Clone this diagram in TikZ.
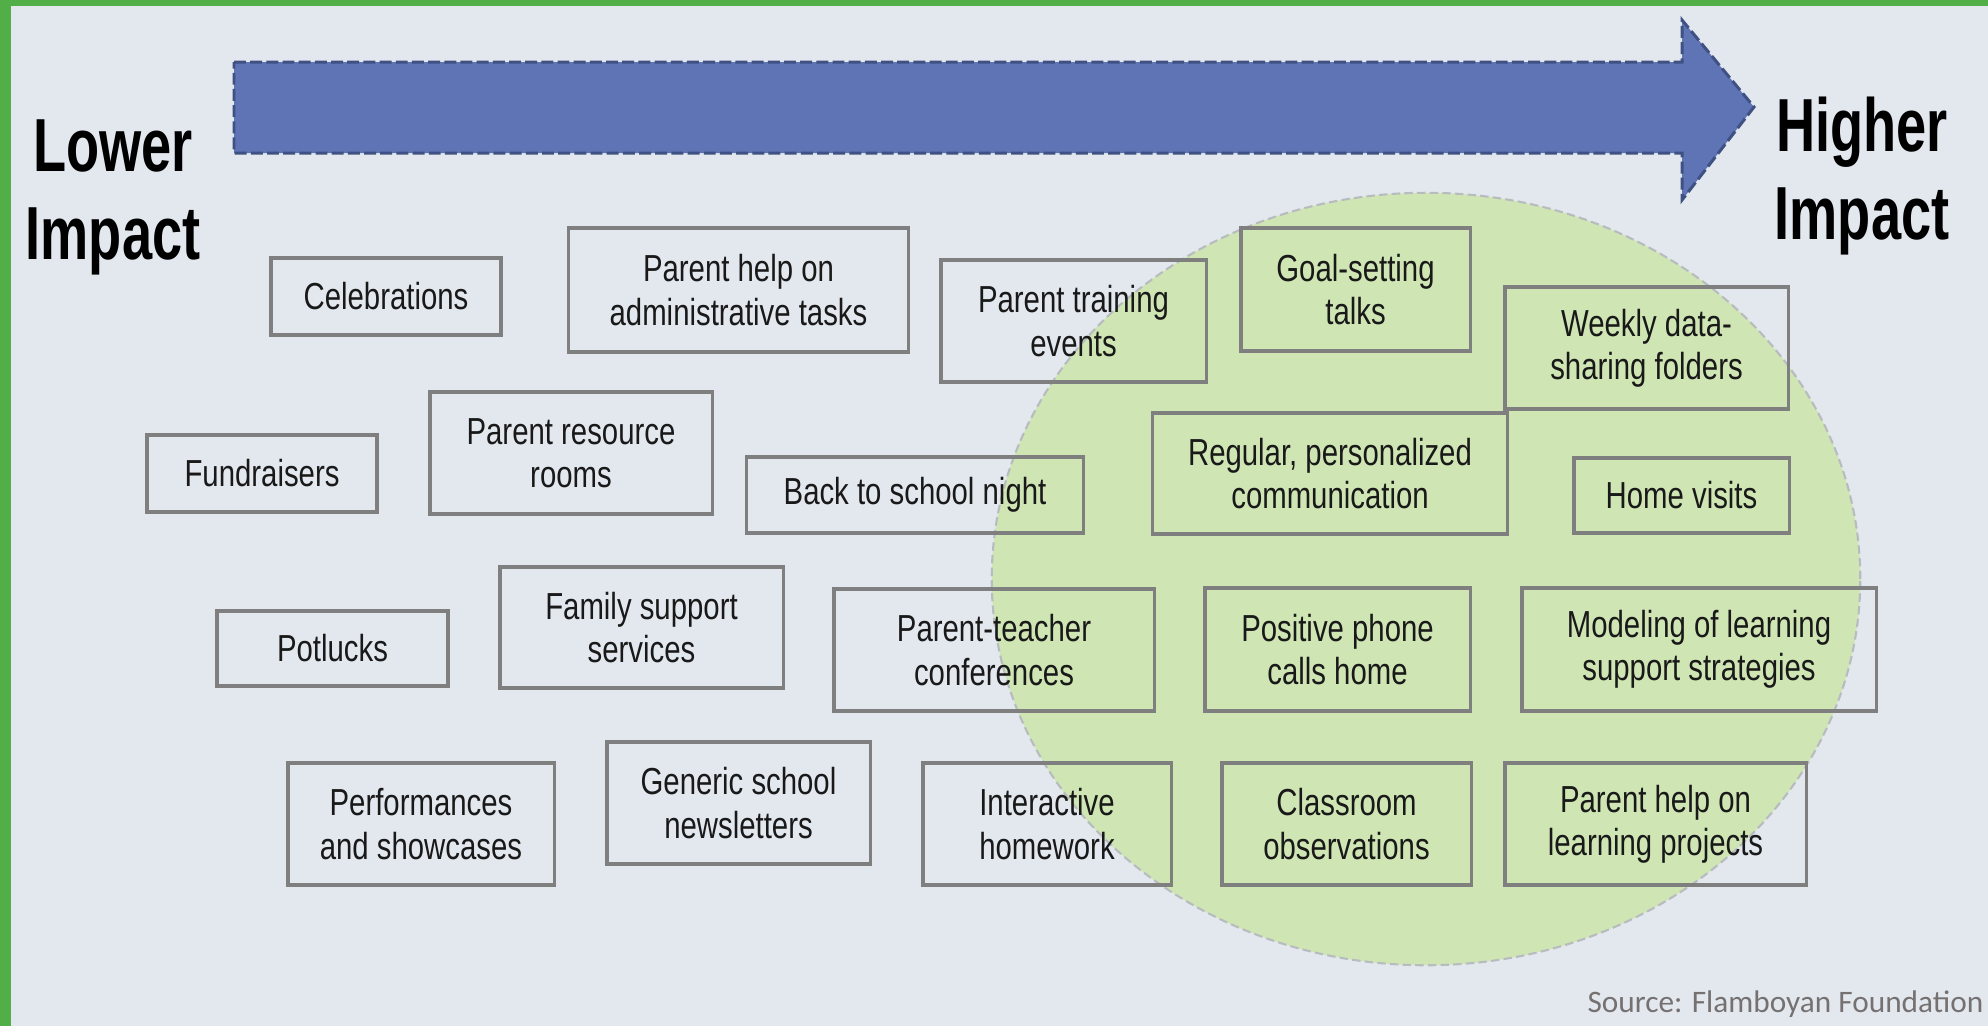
\documentclass[tikz,border=0pt]{standalone}
\usepackage{fontspec}
\setmainfont{Liberation Sans}
\newfontfamily\narrowfont[FakeStretch=0.78]{Liberation Sans}
\newfontfamily\headfont[FakeStretch=0.72]{Liberation Sans}
\newfontfamily\notefont{Carlito}

\definecolor{pagebg}{HTML}{E3E8EF}
\definecolor{framegreen}{HTML}{52AE47}
\definecolor{arrowfill}{HTML}{5E74B4}
\definecolor{arrowedge}{HTML}{3F5183}
\definecolor{zonefill}{HTML}{CFE6B4}
\definecolor{zoneedge}{HTML}{B8BCBF}
\definecolor{boxgray}{HTML}{7F7F7F}
\definecolor{notegray}{HTML}{767171}

\tikzset{
  activity/.style={draw=boxgray, line width=0.9pt, align=center, inner sep=0pt,
    text=black!90, font=\narrowfont\fontsize{10.7}{12.3}\selectfont},
  wh/.style 2 args={minimum width=#1, minimum height=#2},
  impact/.style={align=center, inner sep=0pt,
    font=\headfont\bfseries\fontsize{21.4}{25}\selectfont},
  bigarrow/.style={fill=arrowfill, draw=arrowedge, line width=0.85pt,
    dash pattern=on 3.4pt off 1.2pt},
  zone/.style={fill=zonefill, draw=zoneedge, line width=0.6pt,
    dash pattern=on 2.4pt off 1.2pt},
  source/.style={text=notegray, inner sep=0pt, font=\notefont\fontsize{8.9}{11}\selectfont},
}

\begin{document}
\begin{tikzpicture}[x=0.01cm, y=-0.01cm]
  \useasboundingbox (0,0) rectangle (1988,1026);
  \fill[pagebg] (0,0) rectangle (1988,1026);
  \fill[framegreen] (0,0) rectangle (11,1026);
  \fill[framegreen] (0,0) rectangle (1988,6);

  % high impact zone
  \draw[zone] (1426,579) ellipse [x radius=4.34cm, y radius=3.86cm];

  % impact scale
  \draw[bigarrow] (234,62) -- (1682,62) -- (1682,20) -- (1754,107)
    -- (1682,200) -- (1682,153) -- (234,153) -- cycle;
  \node[impact] (lower) at (113,197) {Lower\\Impact};
  \node[impact] (higher) at (1862,176) {Higher\\Impact};

  % row 1
  \node[activity, wh={2.30cm}{0.77cm}] (celebrations) at (386,296.5) {Celebrations};
  \node[activity, wh={3.39cm}{1.24cm}] (adminhelp) at (738.5,290) {Parent help on\\administrative tasks};
  \node[activity, wh={2.65cm}{1.22cm}] (training) at (1073.5,321) {Parent training\\events};
  \node[activity, wh={2.29cm}{1.23cm}] (goals) at (1355.5,289.5) {Goal-setting\\talks};
  \node[activity, wh={2.83cm}{1.22cm}] (weekly) at (1646.5,348) {Weekly data-\\sharing folders};

  % row 2
  \node[activity, wh={2.30cm}{0.77cm}] (fundraisers) at (262,473.5) {Fundraisers};
  \node[activity, wh={2.82cm}{1.22cm}] (resource) at (571,453) {Parent resource\\rooms};
  \node[activity, wh={3.36cm}{0.76cm}] (backtoschool) at (915,495) {Back to school night};
  \node[activity, wh={3.54cm}{1.21cm}] (regular) at (1330,473.5) {Regular, personalized\\communication};
  \node[activity, wh={2.15cm}{0.75cm}] (homevisits) at (1681.5,495.5) {Home visits};

  % row 3
  \node[activity, wh={2.31cm}{0.75cm}] (potlucks) at (332.5,648.5) {Potlucks};
  \node[activity, wh={2.83cm}{1.21cm}] (family) at (641.5,627.5) {Family support\\services};
  \node[activity, wh={3.20cm}{1.22cm}] (conferences) at (994,650) {Parent-teacher\\conferences};
  \node[activity, wh={2.65cm}{1.23cm}] (phonecalls) at (1337.5,649.5) {Positive phone\\calls home};
  \node[activity, wh={3.54cm}{1.23cm}] (modeling) at (1699,649.5) {Modeling of learning\\support strategies};

  % row 4
  \node[activity, wh={2.66cm}{1.22cm}] (performances) at (421,824) {Performances\\and showcases};
  \node[activity, wh={2.63cm}{1.22cm}] (newsletters) at (738.5,803) {Generic school\\newsletters};
  \node[activity, wh={2.48cm}{1.22cm}] (homework) at (1047,824) {Interactive\\homework};
  \node[activity, wh={2.49cm}{1.22cm}] (observations) at (1346.5,824) {Classroom\\observations};
  \node[activity, wh={3.01cm}{1.22cm}] (projects) at (1655.5,824) {Parent help on\\learning projects};

  \node[source, anchor=base east] (source) at (1984,1012) {Source: Flamboyan Foundation};
\end{tikzpicture}
\end{document}
